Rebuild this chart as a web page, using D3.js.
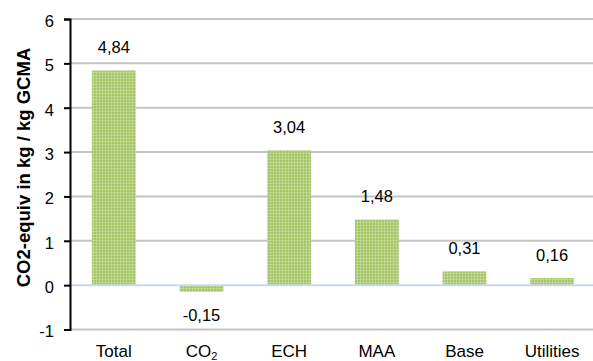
<!DOCTYPE html>
<html>
<head>
<meta charset="utf-8">
<script src="https://cdn.jsdelivr.net/npm/d3@7"></script>
<style>
  html, body { margin: 0; padding: 0; background: #fff; }
  svg { display: block; font-family: "Liberation Sans", Arial, sans-serif; }
</style>
</head>
<body>
<svg id="chart" width="593" height="361"></svg>
<script>
// Emission contributions per source
const categories = ["Total", "CO2", "ECH", "MAA", "Base", "Utilities"];
const values = [4.84, -0.15, 3.04, 1.48, 0.31, 0.16];
const valueLabels = ["4,84", "-0,15", "3,04", "1,48", "0,31", "0,16"];
const yTicks = [-1, 0, 1, 2, 3, 4, 5, 6];
const yTitle = "CO2-equiv in kg / kg GCMA";

const svg = d3.select("#chart");
const margin = { left: 70, right: -3, top: 19, bottom: 31.5 };
const W = 593, H = 361;
const fontSize = 16.5;

const x = d3.scaleBand()
  .domain(categories)
  .range([margin.left, W - margin.right])
  .paddingInner(0.5)
  .paddingOuter(0.25);

const y = d3.scaleLinear()
  .domain([-1, 6])
  .range([H - margin.bottom, margin.top]);

// dotted fill for the bars
const defs = svg.append("defs");
const pat = defs.append("pattern")
  .attr("id", "dots")
  .attr("width", 3).attr("height", 3)
  .attr("patternUnits", "userSpaceOnUse");
pat.append("rect").attr("width", 3).attr("height", 3).attr("fill", "#a6c668");
pat.append("rect").attr("x", 0).attr("y", 0).attr("width", 3).attr("height", 1).attr("fill", "#b9d386");
pat.append("rect").attr("x", 0).attr("y", 0).attr("width", 1).attr("height", 3).attr("fill", "#b9d386");
pat.append("rect").attr("x", 0).attr("y", 0).attr("width", 1).attr("height", 1).attr("fill", "#cfe0aa");

// horizontal gridlines
svg.append("g")
  .selectAll("line")
  .data(yTicks.filter(d => d !== 0))
  .join("line")
  .attr("x1", margin.left).attr("x2", W)
  .attr("y1", d => y(d)).attr("y2", d => y(d))
  .attr("stroke", "#c4c4c4")
  .attr("stroke-width", 2);

const rows = categories.map((c, i) => ({ c, v: values[i], l: valueLabels[i] }));

// bars
svg.append("g")
  .selectAll("rect")
  .data(rows)
  .join("rect")
  .attr("x", d => x(d.c))
  .attr("width", x.bandwidth())
  .attr("y", d => y(Math.max(0, d.v)))
  .attr("height", d => Math.abs(y(d.v) - y(0)))
  .attr("fill", "url(#dots)");

// zero line
svg.append("line")
  .attr("x1", margin.left).attr("x2", W)
  .attr("y1", y(0)).attr("y2", y(0))
  .attr("stroke", "#c9daf0")
  .attr("stroke-width", 2);

// y axis (plain hyphen for negatives)
const yAxis = d3.axisLeft(y)
  .tickValues(yTicks)
  .tickSize(6)
  .tickPadding(10)
  .tickFormat(d => String(d));
const gy = svg.append("g")
  .attr("transform", `translate(${margin.left},0)`)
  .call(yAxis);
gy.attr("font-size", null).attr("font-family", null);
gy.select(".domain").attr("stroke", "#000").attr("stroke-width", 2);
gy.selectAll(".tick line").attr("stroke", "#000").attr("stroke-width", 2);
gy.selectAll(".tick text")
  .attr("font-size", fontSize)
  .attr("dy", "0.45em")
  .attr("fill", "#000");

// value labels
svg.append("g")
  .selectAll("text")
  .data(rows)
  .join("text")
  .attr("x", d => x(d.c) + x.bandwidth() / 2)
  .attr("y", d => d.v >= 0 ? y(d.v) - 17 : y(d.v) + 29)
  .attr("text-anchor", "middle")
  .attr("font-size", fontSize)
  .attr("fill", "#000")
  .text(d => d.l);

// category labels
const xl = svg.append("g")
  .selectAll("text")
  .data(categories)
  .join("text")
  .attr("x", d => x(d) + x.bandwidth() / 2)
  .attr("y", 356.5)
  .attr("text-anchor", "middle")
  .attr("font-size", 17)
  .attr("fill", "#000");
xl.each(function(d) {
  const t = d3.select(this);
  if (d === "CO2") {
    t.append("tspan").text("CO");
    t.append("tspan").attr("font-size", 11).attr("dy", 3).text("2");
  } else {
    t.text(d);
  }
});

// y axis title
svg.append("text")
  .attr("transform", `translate(29.5,167.5) rotate(-90)`)
  .attr("text-anchor", "middle")
  .attr("font-size", 18.5)
  .attr("font-weight", "bold")
  .attr("fill", "#000")
  .text(yTitle);
</script>
</body>
</html>
